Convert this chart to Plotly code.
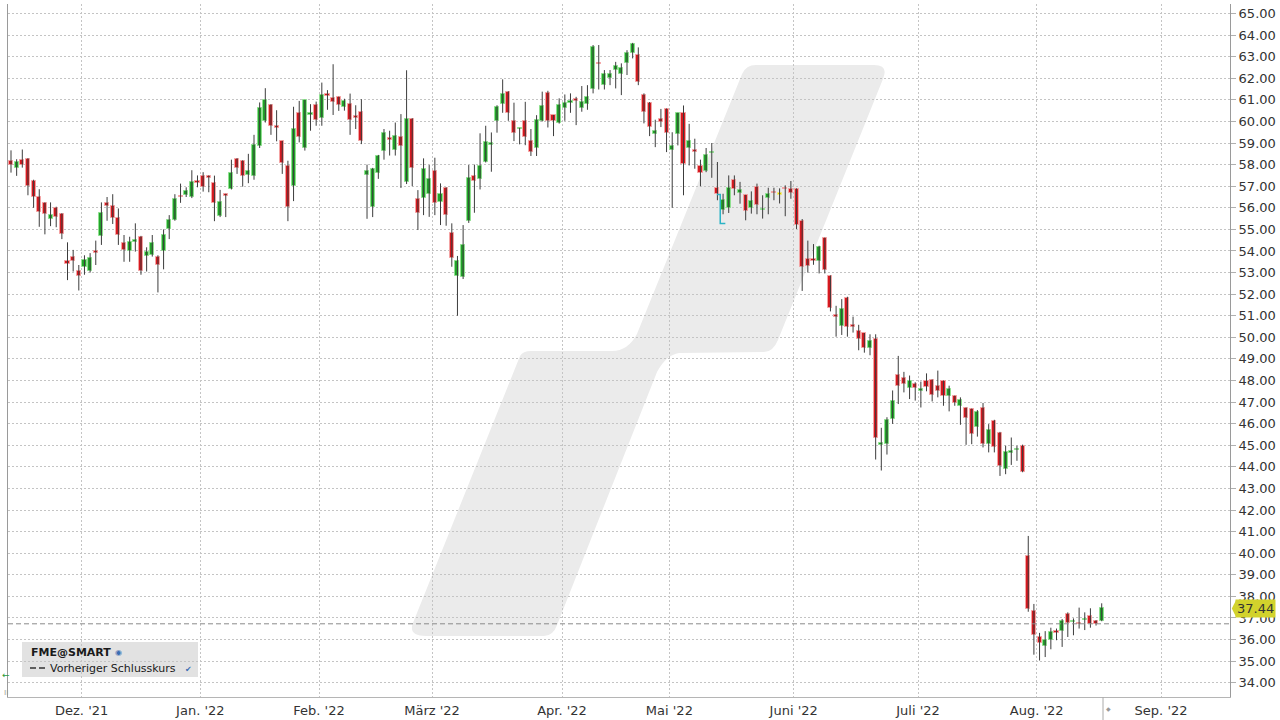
import plotly.graph_objects as go
import pandas as pd

# ---------------- data (FME@SMART, daily) ----------------
opens = [
    58.17, 57.85, 58.2, 58.25, 57.25, 56.5, 56.2, 55.5, 56.0, 55.7, 53.54, 53.74, 53.08,
    53.28, 53.05, 54.0, 54.7, 56.2, 56.1, 55.55, 54.35, 54.0, 54.43, 54.66, 53.77, 53.8, 53.74, 54.0, 55.0, 55.43, 56.55, 56.58, 56.48, 57.25,
    57.49, 57.45, 57.15, 55.64, 56.62, 56.88, 58.25, 58.15, 57.54, 57.49, 58.88, 60.0, 60.75, 59.78, 59.08, 57.95, 57.03, 60.37, 58.77, 60.29, 60.75,
    60.18, 61.26, 61.08, 61.11, 60.65, 60.83, 60.26, 60.45, 57.54, 56.03, 57.62, 58.62, 59.22, 58.68, 59.29, 57.18, 60.11, 56.4, 56.44, 56.64,
    57.7, 56.28, 56.9, 54.81, 52.84, 52.78, 55.38, 57.47, 57.33, 58.13, 58.93, 60.03, 60.8, 61.36, 60.02, 59.63, 60.02, 59.1, 58.78, 60.03, 61.34, 60.28, 59.94,
    60.6, 60.87, 61.03, 60.6, 60.83, 61.48, 62.72, 61.68, 61.99, 62.38, 62.22, 62.69, 63.15, 63.1, 61.22, 60.86, 59.43, 60.12, 60.58,
    58.66, 59.43, 60.38, 58.78, 58.66, 57.92, 57.69, 58.53, 56.92, 55.88, 56.0, 57.3, 56.69, 56.58, 56.0, 56.97, 55.88, 56.47, 56.72, 56.6, 56.93, 56.89,
    56.88, 55.37, 53.63, 53.63, 53.52, 54.6, 52.85, 51.04, 50.53, 51.81, 50.58, 50.3, 50.19, 49.5, 49.91, 45.0, 45.05, 46.22, 48.26, 48.12, 47.65, 47.84,
    47.53, 47.99, 48.02, 47.73, 47.99, 47.29, 47.27, 46.83, 46.72, 46.68, 45.83, 46.71, 45.05, 46.14, 45.59, 43.89, 44.65, 44.78, 44.98, 39.89, 37.34,
    36.12, 35.7, 35.97, 36.41, 36.39, 37.18, 36.81, 36.78, 36.89, 37.09, 36.86, 36.86,
]
highs = [
    58.66, 58.25, 58.7, 58.3, 57.3, 56.86, 56.25, 56.25, 56.05, 55.75, 54.4, 54.05, 53.35,
    53.8, 53.9, 54.48, 56.25, 56.5, 56.63, 55.97, 54.74, 54.66, 55.28, 54.7, 54.17, 54.74, 53.8, 55.0, 55.66, 56.63, 57.12, 56.95, 57.74, 57.5,
    57.65, 57.5, 57.49, 56.83, 56.65, 58.23, 58.3, 58.2, 58.5, 59.38, 60.88, 61.54, 60.8, 60.52, 59.1, 58.18, 60.68, 60.95, 61.0, 60.8, 60.92,
    61.8, 61.45, 62.65, 61.15, 61.05, 61.29, 60.75, 61.03, 58.0, 57.85, 58.45, 59.65, 59.57, 59.95, 60.34, 62.37, 60.15, 56.82, 58.29, 57.98,
    58.32, 57.13, 56.95, 55.28, 53.77, 55.2, 57.98, 58.0, 59.45, 59.8, 59.49, 60.75, 61.95, 61.4, 60.87, 59.7, 60.91, 59.65, 60.29, 61.38, 61.42, 60.3, 61.07,
    61.25, 61.3, 61.14, 61.64, 61.68, 63.54, 63.54, 62.38, 62.38, 62.76, 62.69, 63.3, 63.64, 63.43, 61.3, 60.9, 60.08, 60.58, 60.6,
    59.5, 60.4, 60.74, 59.89, 59.2, 58.23, 58.77, 59.0, 58.12, 56.65, 57.5, 57.5, 57.2, 56.6, 56.76, 57.12, 56.58, 56.93, 56.93, 56.9, 57.04, 57.24,
    56.9, 55.48, 54.48, 54.32, 54.24, 54.62, 52.87, 51.46, 51.77, 51.88, 50.96, 50.58, 50.2, 50.14, 50.14, 45.81, 46.3, 47.54, 49.14, 48.4, 48.23, 47.92,
    47.95, 48.33, 48.05, 48.46, 48.0, 47.76, 47.3, 47.22, 46.75, 46.7, 46.63, 46.96, 45.98, 46.18, 45.62, 44.98, 45.36, 44.98, 45.03, 40.8, 37.65,
    36.31, 36.39, 36.55, 36.51, 36.95, 37.26, 36.98, 37.48, 37.26, 37.45, 36.9, 37.68,
]
lows = [
    57.63, 57.48, 57.86, 56.58, 56.0, 55.12, 54.77, 55.15, 55.1, 54.55, 52.65, 53.05, 52.17,
    52.9, 53.0, 53.35, 54.28, 55.4, 55.25, 54.28, 53.5, 53.5, 53.97, 52.9, 53.05, 53.74, 52.08, 53.15, 54.55, 55.4, 56.23, 56.5, 56.45, 56.95,
    56.75, 56.72, 55.38, 55.57, 55.57, 56.85, 57.57, 56.98, 57.14, 57.3, 58.77, 59.95, 59.38, 59.08, 57.57, 55.38, 56.31, 59.03, 58.65, 59.57, 59.8,
    59.8, 60.54, 60.3, 60.49, 60.5, 59.38, 59.65, 58.95, 55.49, 55.57, 57.34, 58.23, 58.42, 58.42, 56.92, 57.1, 57.0, 54.97, 55.66, 55.58,
    55.66, 55.2, 55.17, 53.27, 51.0, 52.7, 55.3, 55.77, 56.85, 58.1, 57.67, 59.48, 60.4, 60.03, 59.09, 58.94, 58.9, 58.4, 58.4, 60.0, 59.72, 59.32, 59.9,
    60.03, 60.4, 59.83, 60.45, 60.54, 61.3, 61.48, 61.48, 61.68, 61.53, 61.22, 62.15, 62.92, 61.68, 59.91, 59.32, 58.81, 59.74, 58.58,
    56.0, 58.89, 56.58, 57.96, 57.81, 57.0, 57.65, 57.39, 56.35, 55.7, 55.76, 56.58, 56.19, 55.42, 55.73, 55.7, 55.5, 55.7, 56.35, 56.2, 55.61, 56.42,
    55.02, 52.15, 53.0, 53.36, 52.96, 52.96, 51.2, 50.03, 50.11, 50.03, 50.22, 49.4, 49.29, 49.17, 44.34, 43.83, 44.57, 45.99, 46.91, 47.45, 47.14, 47.07,
    46.75, 47.5, 47.03, 47.22, 46.83, 46.57, 46.83, 45.95, 45.02, 45.05, 45.4, 44.9, 44.67, 44.67, 43.58, 43.66, 44.09, 44.28, 43.75, 37.29, 35.3,
    35.03, 35.19, 35.55, 35.97, 35.66, 36.12, 36.2, 36.51, 36.44, 36.55, 36.65, 36.85,
]
closes = [
    58.0, 58.1, 58.0, 57.0, 56.5, 55.8, 55.7, 55.66, 55.58, 54.77, 53.4, 53.55, 52.86,
    53.58, 53.66, 53.92, 55.78, 56.1, 55.55, 54.74, 54.05, 54.43, 54.5, 53.05, 53.95, 54.35, 53.35, 54.74, 55.43, 56.43, 56.48, 56.77, 57.18, 57.15,
    56.95, 57.4, 56.22, 56.28, 56.54, 57.62, 57.85, 57.46, 57.72, 58.92, 60.62, 60.98, 59.8, 59.69, 58.08, 56.03, 59.65, 59.26, 60.98, 60.37, 60.08,
    61.22, 61.18, 60.92, 60.77, 60.95, 60.08, 60.18, 59.08, 57.69, 57.8, 58.42, 59.45, 59.15, 59.34, 58.88, 60.11, 57.85, 55.77, 57.82, 57.32,
    56.23, 56.62, 55.66, 53.66, 53.53, 54.27, 57.36, 57.25, 57.93, 59.03, 58.98, 60.69, 61.25, 60.37, 59.48, 59.68, 59.29, 58.6, 60.09, 60.71, 60.03, 60.03, 60.76,
    60.87, 60.91, 60.94, 60.91, 61.11, 63.46, 62.64, 62.19, 62.19, 62.56, 62.46, 63.18, 63.58, 61.84, 60.45, 59.74, 59.58, 59.97, 59.46,
    58.84, 60.38, 58.01, 59.09, 58.58, 57.61, 58.43, 58.58, 56.62, 56.35, 56.93, 56.89, 56.81, 55.85, 56.3, 56.12, 55.93, 56.66, 56.67, 56.6, 56.87, 56.69,
    55.22, 53.28, 53.32, 53.55, 54.17, 53.11, 51.35, 50.96, 51.33, 50.5, 50.48, 49.91, 49.5, 49.81, 45.34, 45.12, 46.15, 47.06, 47.74, 47.84, 47.99, 47.65,
    47.58, 47.68, 47.34, 47.53, 47.29, 47.6, 46.94, 47.1, 46.26, 45.52, 46.52, 45.05, 45.7, 44.93, 44.02, 44.67, 44.7, 44.83, 43.78, 37.42, 36.2,
    35.86, 36.0, 36.36, 36.31, 36.87, 36.79, 36.86, 36.7, 36.93, 36.7, 36.73, 37.44,
]
holidays = ["2021-12-24", "2021-12-31", "2022-04-15", "2022-04-18"]
month_labels = ["Dez. '21", "Jan. '22", "Feb. '22", "März '22", "Apr. '22", "Mai '22",
                "Juni '22", "Juli '22", "Aug. '22", "Sep. '22"]
dividend_day = "2022-05-13"
dividend_amount = 1.35
future_days = 10

dates = pd.bdate_range("2021-11-12", "2022-08-16", freq="C", holidays=holidays)
n = len(closes)
idx = list(range(n))

# month boundaries (between bars)
tickvals = []
for i in range(1, len(dates)):
    if dates[i].month != dates[i - 1].month:
        tickvals.append(i - 0.5)
tickvals.append(n + future_days - 0.5)

# ---------------- figure ----------------
fig = go.Figure()

# wicks
wx, wy = [], []
for i in idx:
    wx += [i, i, None]
    wy += [highs[i], lows[i], None]
fig.add_trace(go.Scatter(x=wx, y=wy, mode="lines", line=dict(color="#3c3c3c", width=1),
                         hoverinfo="skip", showlegend=False))

# bodies
GREEN, GREEN_L = "#22a52a", "#8fe08f"
RED, RED_L = "#d71920", "#f4a3a3"
YEL, YEL_L = "#e3d400", "#f2ea80"
base, height, fill, edge = [], [], [], []
for o, c in zip(opens, closes):
    base.append(min(o, c))
    height.append(max(abs(c - o), 0.07))
    if c > o:
        fill.append(GREEN); edge.append(GREEN_L)
    elif c < o:
        fill.append(RED); edge.append(RED_L)
    else:
        fill.append(YEL); edge.append(YEL_L)
fig.add_trace(go.Bar(x=idx, y=height, base=base, width=0.72,
                     marker=dict(color=fill, line=dict(color=edge, width=1)),
                     showlegend=False, hoverinfo="skip"))

# dividend marker
di = list(dates.strftime("%Y-%m-%d")).index(dividend_day)
dtop = closes[di - 1]
fig.add_trace(go.Scatter(x=[di - 1.1, di - 0.5, di - 0.5, di + 0.4],
                         y=[dtop, dtop, dtop - dividend_amount, dtop - dividend_amount],
                         mode="lines", line=dict(color="#2ab3c6", width=1.5),
                         hoverinfo="skip", showlegend=False))

# ---------------- decorations ----------------
PL, PR, PT, PB = 8, 1230, 4, 697


def P(px, py):
    return f"{(px - PL) / (PR - PL):.4f},{(PB - py) / (PB - PT):.4f}"


wm = ("M" + P(413, 623) + " L" + P(520, 356) + " Q" + P(523, 351) + " " + P(531, 351) +
      " L" + P(612, 351) + " Q" + P(628, 351) + " " + P(637, 334) +
      " L" + P(742, 74) + " Q" + P(746, 65) + " " + P(756, 65) +
      " L" + P(874, 65) + " Q" + P(889, 65) + " " + P(883, 79) +
      " L" + P(778, 340) + " Q" + P(773, 352) + " " + P(764, 352) +
      " L" + P(679, 353) + " Q" + P(666, 355) + " " + P(657, 372) +
      " L" + P(557, 625) + " Q" + P(553, 636) + " " + P(544, 636) +
      " L" + P(426, 636) + " Q" + P(408, 636) + " " + P(413, 623) + " Z")

shapes = [
    dict(type="path", path=wm, xref="paper", yref="paper", fillcolor="#ebebeb",
         line=dict(width=0), layer="below"),
    dict(type="line", xref="paper", yref="y", x0=0, x1=1, y0=closes[-2], y1=closes[-2],
         line=dict(color="#8a8a8a", width=1, dash="5px,3px")),
    # legend box
    dict(type="rect", xref="paper", yref="paper",
         x0=(22 - PL) / (PR - PL), x1=(198 - PL) / (PR - PL),
         y0=(PB - 677) / (PB - PT), y1=(PB - 642) / (PB - PT),
         fillcolor="#e2e2e2", line=dict(width=0), layer="below"),
    dict(type="line", xref="paper", yref="paper",
         x0=(30 - PL) / (PR - PL), x1=(47 - PL) / (PR - PL),
         y0=(PB - 668) / (PB - PT), y1=(PB - 668) / (PB - PT),
         line=dict(color="#333", width=1.5, dash="6px,3px")),
    # last price flag tip
    dict(type="path", xref="paper", yref="y",
         path=f"M 1.0015,{closes[-1]} L {1 + 6 / (PR - PL):.4f},{closes[-1] + 0.38} "
              f"L {1 + 6 / (PR - PL):.4f},{closes[-1] - 0.38} Z",
         fillcolor="#d2d22c", line=dict(width=0)),
    # small separator at bottom right
    dict(type="line", xref="paper", yref="paper",
         x0=(1103 - PL) / (PR - PL), x1=(1103 - PL) / (PR - PL),
         y0=0, y1=-(720 - PB) / (PB - PT), line=dict(color="#aaaaaa", width=1)),
]

FONT = "DejaVu Sans, Verdana, sans-serif"
annotations = [
    dict(xref="paper", yref="y", x=1, y=closes[-1], xanchor="left", yanchor="middle",
         xshift=5, text=f"{closes[-1]:.2f}", showarrow=False, bgcolor="#d2d22c",
         borderpad=1, font=dict(family=FONT, size=13, color="#333")),
    dict(xref="paper", yref="paper", x=(29 - PL) / (PR - PL), y=(PB - 652.5) / (PB - PT),
         xanchor="left", yanchor="middle", text="<b>FME@SMART</b>", showarrow=False,
         font=dict(family=FONT, size=11, color="#1a1a1a")),
    dict(xref="paper", yref="paper", x=(113 - PL) / (PR - PL), y=(PB - 652.5) / (PB - PT),
         xanchor="left", yanchor="middle", text="◉", showarrow=False,
         font=dict(family=FONT, size=8, color="#3b6db3")),
    dict(xref="paper", yref="paper", x=(48 - PL) / (PR - PL), y=(PB - 668) / (PB - PT),
         xanchor="left", yanchor="middle", text="Vorheriger Schlusskurs", showarrow=False,
         font=dict(family=FONT, size=11, color="#1a1a1a")),
    dict(xref="paper", yref="paper", x=(183 - PL) / (PR - PL), y=(PB - 669) / (PB - PT),
         xanchor="left", yanchor="middle", text="✔", showarrow=False,
         font=dict(family=FONT, size=8, color="#3b6db3")),
    dict(xref="paper", yref="paper", x=(0 - PL) / (PR - PL), y=(PB - 675) / (PB - PT),
         xanchor="left", yanchor="middle", text="←", showarrow=False,
         font=dict(family=FONT, size=9, color="#2a9a3a")),
    dict(xref="paper", yref="paper", x=(2 - PL) / (PR - PL), y=(PB - 692) / (PB - PT),
         xanchor="left", yanchor="middle", text="ıı", showarrow=False,
         font=dict(family=FONT, size=8, color="#999")),
    dict(xref="paper", yref="paper", x=(1108 - PL) / (PR - PL), y=(PB - 708) / (PB - PT),
         xanchor="center", yanchor="middle", text="◆", showarrow=False,
         font=dict(family=FONT, size=6, color="#999")),
]

fig.update_layout(
    width=1280, height=720,
    margin=dict(l=PL, r=1280 - PR, t=PT, b=720 - PB, autoexpand=False),
    paper_bgcolor="white", plot_bgcolor="white",
    font=dict(family=FONT, size=13, color="#333"),
    showlegend=False, bargap=0,
    shapes=shapes, annotations=annotations,
    xaxis=dict(range=[-0.53, 215.7], tickmode="array", tickvals=tickvals,
               ticktext=month_labels, showgrid=True, gridcolor="#c4c4c4",
               griddash="2px,2px", gridwidth=1, zeroline=False, showline=True,
               linecolor="#b5b5b5", linewidth=1, ticks="", ticklen=0,
               ticklabelstandoff=1, automargin=False,
               tickfont=dict(family=FONT, size=13, color="#333"), fixedrange=True),
    yaxis=dict(side="right", range=[33.34, 65.44], dtick=1, tick0=0, tickformat=".2f",
               showgrid=True, gridcolor="#c4c4c4", griddash="2px,2px", gridwidth=1,
               zeroline=False, showline=True, linecolor="#9a9a9a", linewidth=1,
               mirror=True, ticks="outside", ticklen=5, tickcolor="#b0b0b0",
               automargin=False,
               tickfont=dict(family=FONT, size=13, color="#333"), fixedrange=True),
)

fig.write_html("out.html", config={"displayModeBar": False},
               post_script="document.body.style.margin='0px';"
                           "document.body.style.overflow='hidden';")
